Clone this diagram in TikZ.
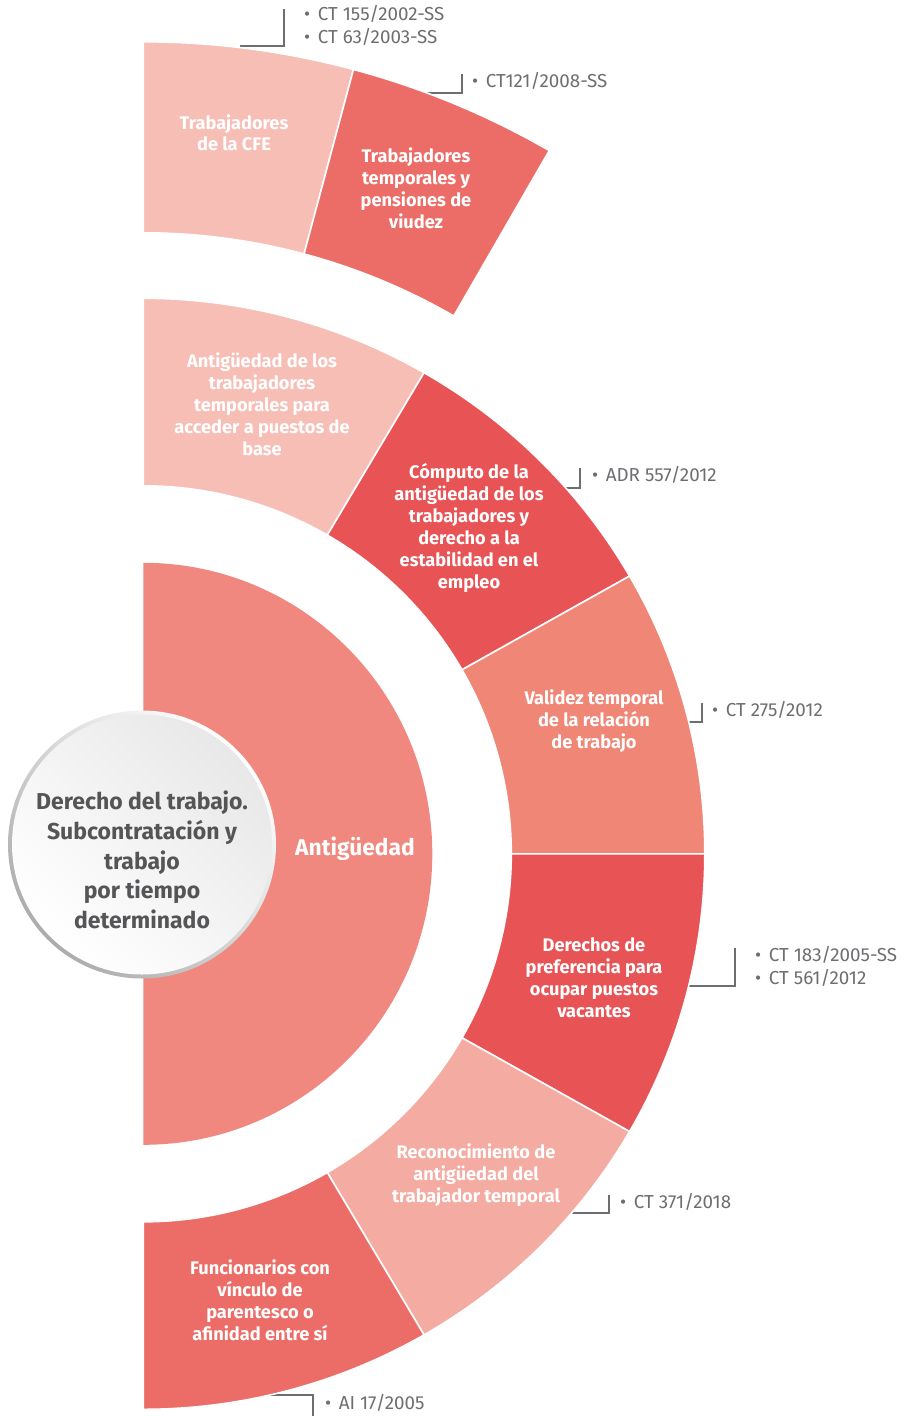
\documentclass[tikz,border=0pt]{standalone}
\usepackage{fontspec}
\setmainfont{Fira Sans}
\usetikzlibrary{calc}
\definecolor{discsalmon}{HTML}{F0887F}
\definecolor{pinklight}{HTML}{F7BEB6}
\definecolor{reddeep}{HTML}{E85356}
\definecolor{redmid}{HTML}{EC6D68}
\definecolor{salmonmid}{HTML}{EF8676}
\definecolor{pinksoft}{HTML}{F4ABA2}
\definecolor{refgray}{HTML}{6D6E71}
\definecolor{temagray}{HTML}{555557}

\begin{document}
\begin{tikzpicture}[x=1pt, y=1pt,
  seg/.style={draw=white, line width=1.6pt},
  lbl/.style={text=white, font=\bfseries\fontsize{18.2}{22}\selectfont, align=center},
  ref/.style={text=refgray, font=\fontsize{18.8}{23}\selectfont, align=left, anchor=north west, inner sep=0pt},
  bracket/.style={draw=refgray, line width=1.6pt}]
  \useasboundingbox (0,0) rectangle (903,-1416);
  \coordinate (O) at (143.3,-853.8);

  % Reference labels
  \node[ref] (refCFE) at (304,-5) {\textbullet\hspace{0.4em}CT 155/2002-SS\\\textbullet\hspace{0.4em}CT 63/2003-SS};
  \node[ref] (refViudez) at (472,-72.5) {\textbullet\hspace{0.4em}CT121/2008-SS};
  \node[ref] (refADR) at (592,-466) {\textbullet\hspace{0.4em}ADR 557/2012};
  \node[ref] (refValidez) at (712,-701) {\textbullet\hspace{0.4em}CT 275/2012};
  \node[ref] (refPref) at (755,-946) {\textbullet\hspace{0.4em}CT 183/2005-SS\\\textbullet\hspace{0.4em}CT 561/2012};
  \node[ref] (refReconoc) at (620,-1193.5) {\textbullet\hspace{0.4em}CT 371/2018};
  \node[ref] (refAI) at (325,-1394) {\textbullet\hspace{0.4em}AI 17/2005};

  % Brackets (under the ring)
  \coordinate (eCFE) at (240,-46);
  \coordinate (eViudez) at (420,-93);
  \coordinate (eADR) at (550,-488);
  \coordinate (eValidez) at (680,-722);
  \coordinate (ePref) at (680,-986);
  \coordinate (eReconoc) at (555,-1213);
  \coordinate (eAI) at (260,-1395);
  \draw[bracket] (eCFE) -| ([xshift=-20pt,yshift=-4pt]refCFE.north west);
  \draw[bracket] (eViudez) -| ([xshift=-10pt,yshift=-1.5pt]refViudez.north west);
  \draw[bracket] (eADR) -| ([xshift=-12pt,yshift=-2pt]refADR.north west);
  \draw[bracket] (eValidez) -| ([xshift=-10pt,yshift=-2pt]refValidez.north west);
  \draw[bracket] (ePref) -| ([xshift=-20pt,yshift=-2pt]refPref.north west);
  \draw[bracket] (eReconoc) -| ([xshift=-11pt,yshift=-1.5pt]refReconoc.north west);
  \draw[bracket] (eAI) -| ([xshift=-12pt,yshift=-8pt]refAI.south west);

  % Ring sectors
  \foreach \a/\b/\ri/\rx/\ry/\c in {90/75/621/812/812/pinklight, 75/60/621/812/812/redmid,
      90/60/368/561.5/555.5/pinklight, 60/30/368/561.5/555.5/reddeep, 30/0/368/561.5/555.5/salmonmid,
      0/-30/368/561.5/555.5/reddeep, -30/-60/368/561.5/555.5/pinksoft, -60/-90/368/561.5/555.5/redmid}
    \filldraw[seg, fill=\c] ($(O)+({\rx*cos(\a)},{\ry*sin(\a)})$) arc[start angle=\a, end angle=\b, x radius=\rx, y radius=\ry]
      -- ($(O)+(\b:\ri)$) arc[start angle=\b, end angle=\a, radius=\ri] -- cycle;

  % Half disc
  \fill[discsalmon] ($(O)+(90:291)$) arc[start angle=90, end angle=-90, x radius=289, y radius=291] -- cycle;
  \node[lbl, font=\bfseries\fontsize{22.8}{25}\selectfont] (antig) at (355,-849) {Antigüedad};

  % Sector labels
  \node[lbl, font=\bfseries\fontsize{18.2}{21}\selectfont] (cfe) at (234,-132.5) {Trabajadores\\de la CFE};
  \node[lbl] (viudez) at (416,-188.5) {Trabajadores\\temporales y\\pensiones de\\viudez};
  \node[lbl] (base) at (262,-404) {Antigüedad de los\\trabajadores\\temporales para\\acceder a puestos de\\base};
  \node[lbl] (computo) at (469,-528) {Cómputo de la\\antigüedad de los\\trabajadores y\\derecho a la\\estabilidad en el\\empleo};
  \node[lbl] (validez) at (594,-721) {Validez temporal\\de la relación\\de trabajo};
  \node[lbl] (pref) at (594,-978) {Derechos de\\preferencia para\\ocupar puestos\\vacantes};
  \node[lbl] (reconoc) at (476,-1175) {Reconocimiento de\\antigüedad del\\trabajador temporal};
  \node[lbl] (parentesco) at (260,-1300) {Funcionarios con\\vínculo de\\parentesco o\\afinidad entre sí};

  % Central circle
  \shade[top color=white, bottom color=gray!65, shading angle=-45] (142,-844.5) circle[radius=134];
  \shade[top color=gray!18, bottom color=white, shading angle=-45] (142,-844.5) circle[radius=130];
  \node[text=temagray, font=\bfseries\fontsize{23}{29.7}\selectfont, align=center] (tema) at (142,-860)
    {Derecho del trabajo.\\Subcontratación y\\trabajo\\por tiempo\\determinado};
\end{tikzpicture}
\end{document}
